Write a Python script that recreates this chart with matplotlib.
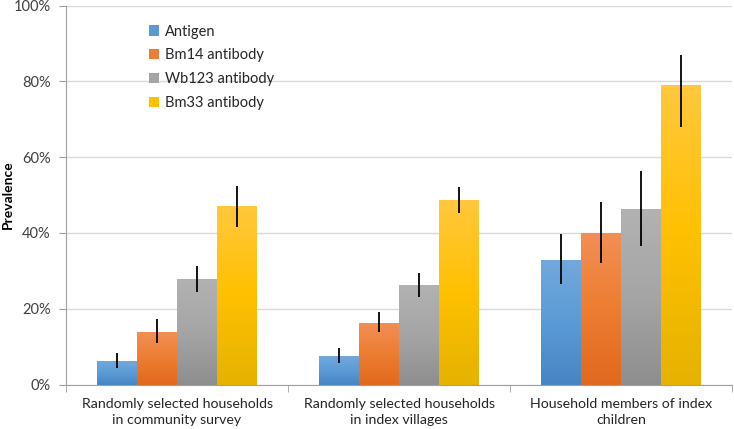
import numpy as np
import matplotlib
matplotlib.use("Agg")
import matplotlib.pyplot as plt
from matplotlib.colors import LinearSegmentedColormap
from matplotlib.patches import Patch

plt.rcParams['font.family'] = ['Lato', 'DejaVu Sans']

categories = ["Randomly selected households\nin community survey",
              "Randomly selected households\nin index villages",
              "Household members of index\nchildren"]
series = ["Antigen", "Bm14 antibody", "Wb123 antibody", "Bm33 antibody"]
antigen = [6.1, 7.5, 32.8]
bm14 = [13.9, 16.2, 40.0]
wb123 = [27.8, 26.2, 46.3]
bm33 = [47.2, 48.7, 79.1]
antigen_lo = [4.4, 5.7, 26.4]
antigen_hi = [8.4, 9.6, 39.8]
bm14_lo = [11.0, 13.8, 32.1]
bm14_hi = [17.2, 19.1, 48.3]
wb123_lo = [24.5, 23.2, 36.5]
wb123_hi = [31.3, 29.5, 56.4]
bm33_lo = [41.7, 45.2, 68.0]
bm33_hi = [52.5, 52.2, 87.0]

values = [antigen, bm14, wb123, bm33]
lows = [antigen_lo, bm14_lo, wb123_lo, bm33_lo]
highs = [antigen_hi, bm14_hi, wb123_hi, bm33_hi]
# (top, middle, bottom) gradient colours
grads = [("#72a8dd", "#5b9bd5", "#4784c4"),
         ("#f18f55", "#ed7d31", "#e0691c"),
         ("#b2b2b2", "#a5a5a5", "#8e8e8e"),
         ("#ffc83d", "#ffc000", "#e5b300")]
base = ["#5b9bd5", "#ed7d31", "#a5a5a5", "#ffc000"]

fig = plt.figure(figsize=(7.34, 4.29), dpi=100)
ax = fig.add_axes([66/734, 1-384.5/429, (732-66)/734, (384.5-5.7)/429])

x = np.arange(len(categories))
w = 0.18
grad = np.linspace(0, 1, 256).reshape(-1, 1)
for i, (vals, lo, hi) in enumerate(zip(values, lows, highs)):
    pos = x + (i - 1.5) * w
    bars = ax.bar(pos, vals, w, color='none', zorder=2)
    cmap = LinearSegmentedColormap.from_list("g%d" % i, [grads[i][2], grads[i][1], grads[i][0]])
    for b in bars:
        x0, y0 = b.get_x(), b.get_y()
        ax.imshow(grad, extent=[x0, x0 + b.get_width(), y0, y0 + b.get_height()],
                  origin='lower', cmap=cmap, aspect='auto', zorder=2, interpolation='bilinear')
    v = np.array(vals)
    yerr = [v - np.array(lo), np.array(hi) - v]
    ax.errorbar(pos, v, yerr=yerr, fmt='none', ecolor='black', elinewidth=1.3, capsize=0, zorder=3)

ax.set_xlim(-0.5, len(categories) - 0.5)
ax.set_ylim(0, 100)
ax.set_yticks(np.arange(0, 101, 20))
ax.set_yticklabels([f"{t}%" for t in range(0, 101, 20)], color='#404040', fontsize=10.5)
ax.yaxis.grid(True, color='#d9d9d9', linewidth=1, zorder=0)
ax.set_axisbelow(True)
ax.set_xticks(x)
ax.set_xticklabels(categories, fontsize=10.2, color='#262626', linespacing=1.4)
ax.set_xticks(np.arange(-0.5, len(categories)), minor=True)
ax.tick_params(axis='x', which='major', length=0, pad=9.5)
ax.tick_params(axis='x', which='minor', length=5, color='#a0a0a0', direction='out')
ax.tick_params(axis='y', length=5, color='#a0a0a0', direction='out', pad=6)
for s in ['top', 'right']:
    ax.spines[s].set_visible(False)
for s in ['left', 'bottom']:
    ax.spines[s].set_color('#a0a0a0')
ax.set_ylabel("Prevalence", fontweight='bold', fontsize=10, color='black')
ax.yaxis.set_label_coords(-0.078, 0.5)

handles = [Patch(facecolor=base[i], edgecolor='none') for i in range(4)]
leg = ax.legend(handles, series, loc='upper left', bbox_to_anchor=(0.105, 0.985), frameon=False,
                fontsize=10.5, handlelength=0.7, handleheight=0.7, handletextpad=0.4,
                labelspacing=0.68, labelcolor='#262626')

fig.savefig("out.png", dpi=100)
